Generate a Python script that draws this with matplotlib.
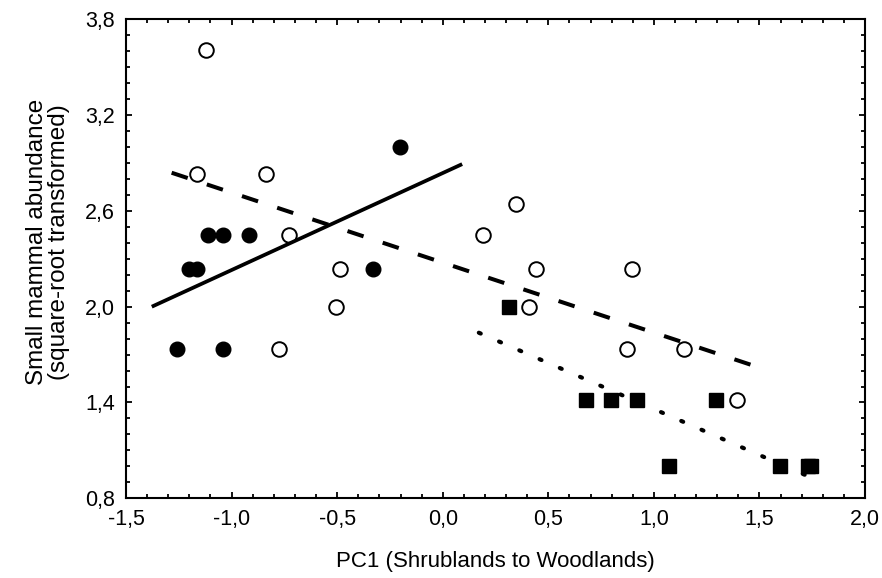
import numpy as np
import matplotlib.pyplot as plt
from matplotlib.ticker import MultipleLocator, FuncFormatter

plt.rcParams['font.family'] = ['Liberation Sans', 'DejaVu Sans']

# PC1 scores and sqrt-transformed abundance per group
shrub_x = [-1.26, -1.04, -1.20, -1.165, -1.113, -1.04, -0.918, -0.332, -0.203]
shrub_y = [1.732, 1.732, 2.236, 2.236, 2.449, 2.449, 2.449, 2.236, 3.0]

mixed_x = [-1.121, -1.165, -0.837, -0.727, -0.487, -0.507, -0.774,
           0.347, 0.189, 0.441, 0.897, 0.410, 0.871, 1.143, 1.393]
mixed_y = [3.606, 2.828, 2.828, 2.449, 2.236, 2.0, 1.732,
           2.646, 2.449, 2.236, 2.236, 2.0, 1.732, 1.732, 1.414]

wood_x = [0.312, 0.678, 0.796, 0.918, 1.294, 1.073, 1.597, 1.73, 1.745]
wood_y = [2.0, 1.414, 1.414, 1.414, 1.414, 1.0, 1.0, 1.0, 1.0]

# fitted lines (end points)
fit_shrub_x = [-1.378, 0.092]
fit_shrub_y = [2.0, 2.893]
fit_mixed_x = [-1.284, 1.467]
fit_mixed_y = [2.839, 1.633]
fit_wood_x = [0.171, 1.79]
fit_wood_y = [1.837, 0.904]

yticks = [0.8, 1.4, 2.0, 2.6, 3.2, 3.8]

fig = plt.figure(figsize=(8.82, 5.78), dpi=100)
ax = fig.add_axes([0.1429, 0.1379, 0.8378, 0.8287])

ax.plot(mixed_x, mixed_y, 'o', ms=10.5, mfc='white', mec='black', mew=1.4, ls='none')
ax.plot(shrub_x, shrub_y, 'o', ms=10.5, mfc='black', mec='black', ls='none')
ax.plot(wood_x, wood_y, 's', ms=10.5, mfc='black', mec='black', ls='none')

ax.plot(fit_shrub_x, fit_shrub_y, '-', color='black', lw=2.7, solid_capstyle='butt')
ax.plot(fit_mixed_x, fit_mixed_y, color='black', lw=2.9, linestyle=(0, (4.2, 5.0)))
ax.plot(fit_wood_x, fit_wood_y, color='black', lw=3.0, linestyle=(0, (0.5, 4.8)),
        dash_capstyle='round')

ax.set_xlim(-1.5, 2.0)
ax.set_ylim(0.8, 3.8)
ax.xaxis.set_major_locator(MultipleLocator(0.5))
ax.xaxis.set_minor_locator(MultipleLocator(0.1))
ax.set_yticks(yticks)
ax.yaxis.set_minor_locator(MultipleLocator(0.1))
comma = FuncFormatter(lambda v, p: ('%.1f' % v).replace('.', ','))
ax.xaxis.set_major_formatter(comma)
ax.yaxis.set_major_formatter(comma)

ax.tick_params(which='both', direction='in', top=True, right=True, width=1.3,
               labelsize=15.5)
ax.tick_params(which='major', length=4.5)
ax.tick_params(axis='x', which='major', pad=8)
ax.tick_params(axis='y', which='major', pad=8)
ax.tick_params(which='minor', length=3)
for s in ax.spines.values():
    s.set_linewidth(1.5)

ax.set_xlabel('PC1 (Shrublands to Woodlands)', fontsize=16, va='center')
ax.xaxis.set_label_coords(0.5, -0.133)
ax.set_ylabel('Small mammal abundance\n(square-root transformed)', fontsize=17.5,
              va='center', ha='center', linespacing=1.0)
ax.yaxis.set_label_coords(-0.106, 0.535)

plt.savefig('out.png', dpi=100)
